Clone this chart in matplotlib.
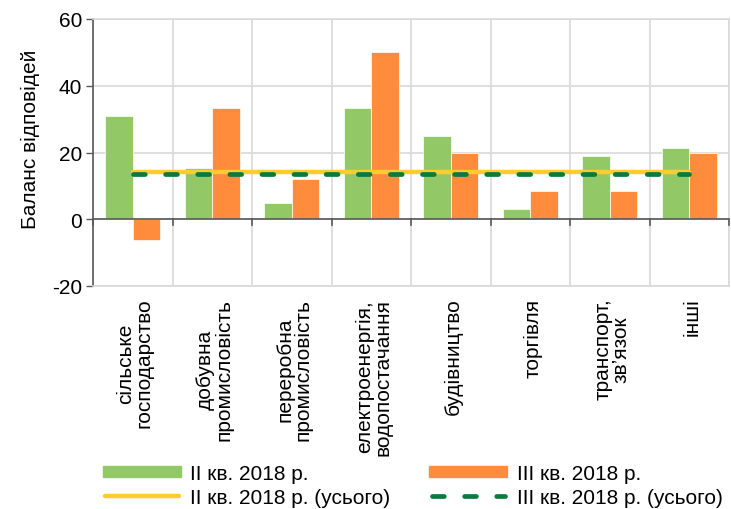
import matplotlib
matplotlib.use("Agg")
import matplotlib.pyplot as plt
import numpy as np
from matplotlib.patches import Rectangle
from matplotlib.lines import Line2D

plt.rcParams['font.family'] = ['Liberation Sans', 'DejaVu Sans']

categories = ["сільське\nгосподарство", "добувна\nпромисловість", "переробна\nпромисловість",
              "електроенергія,\nводопостачання", "будівництво", "торгівля",
              "транспорт,\nзв’язок", "інші"]
q2 = [30.8, 15.4, 5.0, 33.3, 25.0, 3.0, 19.0, 21.4]
q3 = [-6.3, 33.3, 12.0, 50.0, 20.0, 8.5, 8.5, 20.0]
q2_total = 14.2
q3_total = 13.6
yticks = [-20, 0, 20, 40, 60]
labels = ["II кв. 2018 р.", "III кв. 2018 р.", "II кв. 2018 р. (усього)", "III кв. 2018 р. (усього)"]

W, H = 731, 510
fig = plt.figure(figsize=(W / 100, H / 100), dpi=100)
ax = fig.add_axes([93 / W, 1 - 287 / H, (729 - 93) / W, (287 - 20) / H])

x = np.arange(len(categories))
w = 0.345
green = "#92C966"
orange = "#FF8C3C"
yellow = "#FFCC2E"
dkgreen = "#0A7A3E"
ax.bar(x - w/2, q2, w, color=green, edgecolor="white", linewidth=0.5, zorder=3)
ax.bar(x + w/2, q3, w, color=orange, edgecolor="white", linewidth=0.5, zorder=3)
ax.plot([x[0], x[-1]], [q2_total]*2, color=yellow, lw=3.2, solid_capstyle="round", zorder=4)
ax.plot([x[0], x[-1]], [q3_total]*2, color=dkgreen, lw=3.4, dashes=(2.5, 4.3),
        dash_capstyle="round", zorder=5)

ax.set_xlim(-0.5, len(categories) - 0.5)
ax.set_ylim(-20, 60)
ax.set_yticks(yticks)
ax.set_yticklabels([str(v) for v in yticks], fontsize=15)
ax.set_xticks(np.arange(len(categories) + 1) - 0.5)
ax.set_xticklabels([])
ax.tick_params(axis='x', length=0)
ax.tick_params(axis='y', length=5, color="#595959", width=1, pad=3)
ax.set_ylabel("Баланс відповідей", fontsize=15)
ax.yaxis.set_label_coords(-0.084, 0.555)

ax.grid(True, color="#D9D9D9", lw=1.2, zorder=0)
for s in ["top", "right", "bottom"]:
    ax.spines[s].set_color("#D9D9D9")
    ax.spines[s].set_linewidth(1.2)
ax.spines["left"].set_color("#595959")
ax.spines["left"].set_linewidth(1.2)
ax.axhline(0, color="#595959", lw=1.2, zorder=6)
for b in np.arange(len(categories) + 1) - 0.5:
    ax.plot([b, b], [0, -1.7], color="#595959", lw=1.2, zorder=6, clip_on=False)

for i, c in enumerate(categories):
    ax.text(i + 0.03, -23.5, c, rotation=90, ha="center", va="top", fontsize=15,
            multialignment="center", linespacing=0.95)

# legend (manual, figure pixel coordinates)
def fx(px):
    return px / W

def fy(py):
    return 1 - py / H

rows = [472, 497]
cols = [(103, 181, 190), (429, 507, 517)]
fig.add_artist(Rectangle((fx(cols[0][0]), fy(rows[0] + 5.5)), fx(cols[0][1] - cols[0][0]), 11 / H,
                         color=green, transform=fig.transFigure))
fig.add_artist(Rectangle((fx(cols[1][0]), fy(rows[0] + 5.5)), fx(cols[1][1] - cols[1][0]), 11 / H,
                         color=orange, transform=fig.transFigure))
fig.add_artist(Line2D([fx(cols[0][0] + 2), fx(cols[0][1] - 2)], [fy(rows[1])] * 2, color=yellow,
                      lw=3.2, solid_capstyle="round", transform=fig.transFigure))
fig.add_artist(Line2D([fx(cols[1][0] + 3), fx(cols[1][1] - 2)], [fy(rows[1])] * 2, color=dkgreen,
                      lw=3.4, dashes=(2.5, 4.3), dash_capstyle="round", transform=fig.transFigure))
fig.text(fx(cols[0][2]), fy(rows[0]), labels[0], fontsize=15, va="center_baseline", ha="left")
fig.text(fx(cols[1][2]), fy(rows[0]), labels[1], fontsize=15, va="center_baseline", ha="left")
fig.text(fx(cols[0][2]), fy(rows[1]), labels[2], fontsize=15, va="center_baseline", ha="left")
fig.text(fx(cols[1][2]), fy(rows[1]), labels[3], fontsize=15, va="center_baseline", ha="left")

fig.savefig("out.png", dpi=100)
